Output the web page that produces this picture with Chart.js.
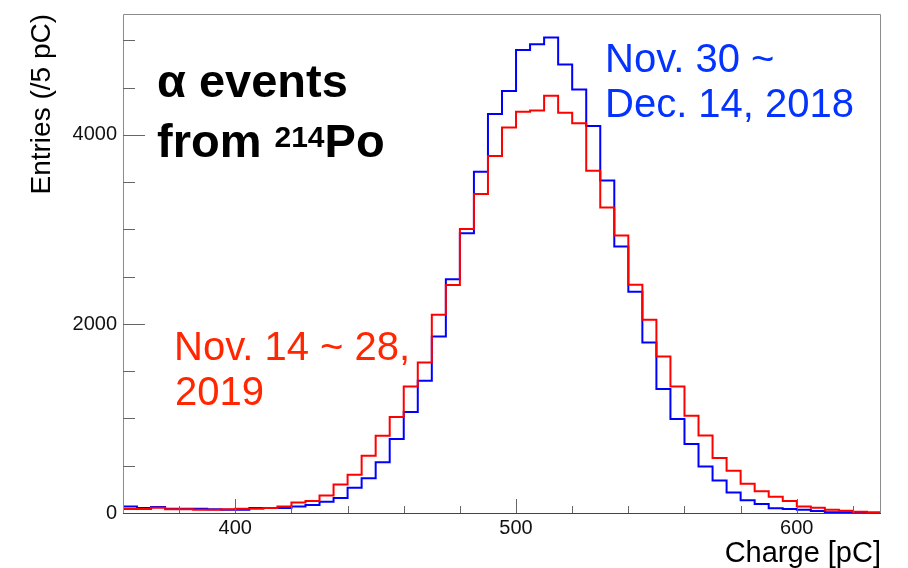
<!DOCTYPE html>
<html>
<head>
<meta charset="utf-8">
<title>Charge spectrum of 214Po alpha events</title>
<script src="https://cdn.jsdelivr.net/npm/chart.js@4.4.1/dist/chart.umd.min.js"></script>
<style>
  html, body { margin: 0; padding: 0; background: #fff; }
  #wrap { width: 908px; height: 568px; }
</style>
</head>
<body>
<div id="wrap"><canvas id="chargeChart" width="908" height="568"></canvas></div>
<script>
// histogram binning (pC)
const BIN_START = 360;
const BIN_WIDTH = 5;

// entries per 5 pC bin, Nov. 30 ~ Dec. 14, 2018
const countsDec2018 = [
  70, 53, 63, 46, 46, 46, 39, 35, 35, 53,
  53, 53, 70, 85, 118, 160, 268, 368, 536, 782,
  1068, 1400, 1868, 2474, 2960, 3612, 4221, 4464, 4898, 4961,
  5032, 4746, 4482, 4094, 3517, 2819, 2340, 1804, 1311, 994,
  729, 493, 345, 218, 134, 95, 49, 42, 35, 21,
  7, 7, 4, 0
];

// entries per 5 pC bin, Nov. 14 ~ 28, 2019
const countsNov2019 = [
  42, 42, 56, 39, 39, 35, 35, 39, 46, 46,
  53, 70, 110, 128, 185, 302, 404, 606, 817, 1015,
  1339, 1593, 2097, 2412, 3006, 3376, 3777, 4080, 4246, 4260,
  4415, 4235, 4123, 3622, 3233, 2935, 2414, 2044, 1656, 1339,
  1029, 821, 581, 447, 310, 229, 173, 127, 70, 56,
  35, 25, 14, 7
];

// axis ranges and ticks
const X_MAX = 630;
const Y_MAX = 5280;
const xLabelTicks = [400, 500, 600];
const yLabelTicks = [0, 2000, 4000];
const xMinorStep = 20;
const yMinorStep = 500;

const FONT = '"Liberation Sans", Arial, Helvetica, sans-serif';
const BLUE_TEXT = '#0433ff';
const RED_TEXT = '#ff2600';

// turn bin contents into step points at the low edge of every bin,
// plus one closing point at the upper edge of the last bin
function toSteps(counts) {
  const pts = counts.map((c, i) => ({ x: BIN_START + i * BIN_WIDTH, y: c }));
  pts.push({ x: BIN_START + counts.length * BIN_WIDTH, y: counts[counts.length - 1] });
  return pts;
}

// keep the plot area exactly where the axes were sized, no label overhang padding
function noOverhang(axis) {
  axis.paddingTop = 0;
  axis.paddingBottom = 0;
  axis.paddingLeft = 0;
  axis.paddingRight = 0;
}

// ROOT-like frame with inward tick marks
const frameTicks = {
  id: 'frameTicks',
  afterDatasetsDraw(chart) {
    const { ctx, chartArea: a, scales: { x, y } } = chart;
    ctx.save();
    ctx.lineWidth = 1;

    ctx.strokeStyle = '#8c8c8c';
    ctx.beginPath();
    ctx.moveTo(a.left + 0.5, a.bottom);
    ctx.lineTo(a.left + 0.5, a.top + 0.5);
    ctx.lineTo(a.right - 0.5, a.top + 0.5);
    ctx.lineTo(a.right - 0.5, a.bottom);
    ctx.stroke();

    ctx.strokeStyle = '#444';
    ctx.beginPath();
    ctx.moveTo(a.left, a.bottom + 0.5);
    ctx.lineTo(a.right, a.bottom + 0.5);
    ctx.stroke();

    ctx.strokeStyle = '#666';
    ctx.beginPath();
    for (let v = Math.ceil(x.min / xMinorStep) * xMinorStep; v < x.max; v += xMinorStep) {
      if (v <= x.min) continue;
      const px = Math.round(x.getPixelForValue(v)) + 0.5;
      const len = xLabelTicks.includes(v) ? 14 : 7;
      ctx.moveTo(px, a.bottom);
      ctx.lineTo(px, a.bottom - len);
    }
    for (let v = yMinorStep; v < y.max; v += yMinorStep) {
      const py = Math.round(y.getPixelForValue(v)) + 0.5;
      const len = yLabelTicks.includes(v) ? 22 : 12;
      ctx.moveTo(a.left, py);
      ctx.lineTo(a.left + len, py);
    }
    ctx.stroke();
    ctx.restore();
  }
};

// text labels inside the plot
const plotText = {
  id: 'plotText',
  afterDraw(chart) {
    const ctx = chart.ctx;
    ctx.save();
    ctx.textBaseline = 'alphabetic';
    ctx.textAlign = 'left';

    ctx.fillStyle = '#000';
    ctx.font = 'bold 47px ' + FONT;
    ctx.fillText('α events', 157, 97);
    let cx = 157;
    ctx.fillText('from ', cx, 157);
    cx += ctx.measureText('from ').width;
    ctx.font = 'bold 30px ' + FONT;
    ctx.fillText('214', cx, 147);
    cx += ctx.measureText('214').width;
    ctx.font = 'bold 47px ' + FONT;
    ctx.fillText('Po', cx, 157);

    ctx.font = '40px ' + FONT;
    ctx.fillStyle = BLUE_TEXT;
    ctx.fillText('Nov. 30 ~', 605, 72);
    ctx.fillText('Dec. 14, 2018', 605, 117);

    ctx.fillStyle = RED_TEXT;
    ctx.fillText('Nov. 14 ~ 28,', 174, 360);
    ctx.fillText('2019', 175, 405);
    ctx.restore();
  }
};

new Chart(document.getElementById('chargeChart'), {
  type: 'line',
  data: {
    datasets: [
      {
        label: 'Nov. 14 ~ 28, 2019',
        data: toSteps(countsNov2019),
        borderColor: '#ff0000',
        order: 0
      },
      {
        label: 'Nov. 30 ~ Dec. 14, 2018',
        data: toSteps(countsDec2018),
        borderColor: '#0000ff',
        order: 1
      }
    ]
  },
  options: {
    responsive: false,
    devicePixelRatio: 1,
    animation: false,
    events: [],
    layout: { padding: { left: 0, right: 27, top: 14, bottom: 0 } },
    elements: {
      line: { borderWidth: 2, stepped: 'before', tension: 0, fill: false, borderJoinStyle: 'miter', borderCapStyle: 'butt' },
      point: { radius: 0, hoverRadius: 0 }
    },
    plugins: {
      legend: { display: false },
      tooltip: { enabled: false }
    },
    scales: {
      x: {
        type: 'linear',
        min: BIN_START,
        max: X_MAX,
        grid: { display: false, drawTicks: false },
        border: { display: false },
        afterFit: (axis) => { axis.height = 55; noOverhang(axis); },
        afterBuildTicks: (axis) => { axis.ticks = xLabelTicks.map(v => ({ value: v })); },
        ticks: {
          color: '#111',
          font: { family: FONT, size: 20 },
          padding: 3,
          maxRotation: 0,
          callback: (v) => String(v)
        },
        title: {
          display: true,
          text: 'Charge [pC]',
          align: 'end',
          color: '#000',
          font: { family: FONT, size: 29, lineHeight: 1 },
          padding: { top: 0, bottom: 0 }
        }
      },
      y: {
        type: 'linear',
        min: 0,
        max: Y_MAX,
        grid: { display: false, drawTicks: false },
        border: { display: false },
        afterFit: (axis) => { axis.width = 123; noOverhang(axis); },
        afterBuildTicks: (axis) => { axis.ticks = yLabelTicks.map(v => ({ value: v })); },
        ticks: {
          color: '#111',
          font: { family: FONT, size: 20 },
          padding: 6,
          callback: (v) => String(v)
        },
        title: {
          display: true,
          text: 'Entries (/5 pC)',
          align: 'end',
          color: '#000',
          font: { family: FONT, size: 28, lineHeight: 1.2 },
          padding: { top: 25, bottom: 0 }
        }
      }
    }
  },
  plugins: [frameTicks, plotText]
});
</script>
</body>
</html>
